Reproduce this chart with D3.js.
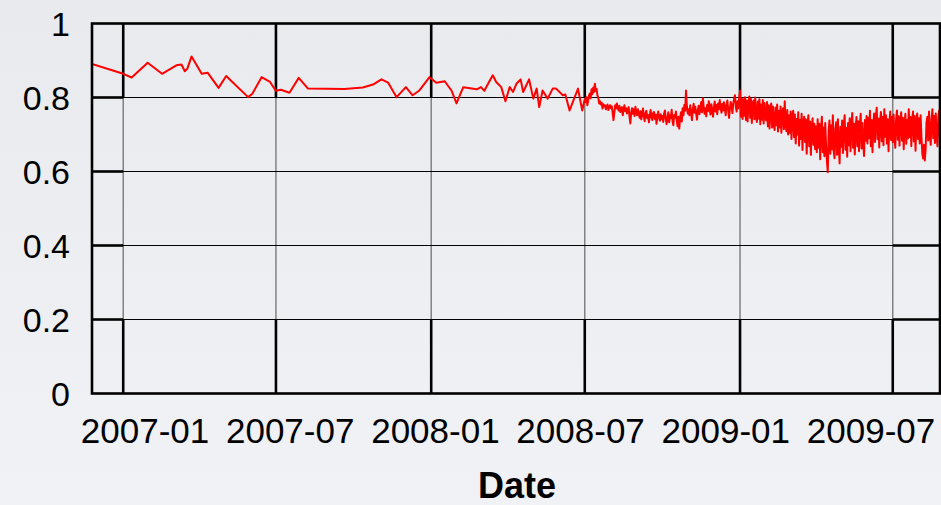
<!DOCTYPE html>
<html>
<head>
<meta charset="utf-8">
<script src="https://cdn.jsdelivr.net/npm/d3@7"></script>
<style>
  html, body { margin: 0; padding: 0; background: #eceef1; }
  svg { display: block; }
  text { font-family: "Liberation Sans", Arial, sans-serif; fill: #000; }
</style>
</head>
<body>
<svg id="chart" width="941" height="505"></svg>
<script>
// Sparse readings up to mid 2008
var sparseDates = [
    "2006-11-25", "2007-01-01", "2007-01-11", "2007-01-30", "2007-02-16", "2007-03-05", "2007-03-11",
    "2007-03-15", "2007-03-18", "2007-03-23", "2007-04-04", "2007-04-11", "2007-04-24", "2007-05-03",
    "2007-05-29", "2007-06-03", "2007-06-14", "2007-06-24", "2007-07-01", "2007-07-07", "2007-07-17",
    "2007-07-28", "2007-08-08", "2007-09-20", "2007-10-12", "2007-10-24", "2007-11-03", "2007-11-11",
    "2007-11-21", "2007-12-02", "2007-12-10", "2007-12-18", "2007-12-30", "2008-01-07", "2008-01-17",
    "2008-01-25", "2008-01-31", "2008-02-08", "2008-02-24", "2008-02-29", "2008-03-04", "2008-03-10",
    "2008-03-14", "2008-03-18", "2008-03-24", "2008-03-29", "2008-04-03", "2008-04-07", "2008-04-11",
    "2008-04-16", "2008-04-19", "2008-04-26", "2008-05-01", "2008-05-05", "2008-05-08", "2008-05-12",
    "2008-05-18", "2008-05-24", "2008-05-28", "2008-06-05", "2008-06-08", "2008-06-13", "2008-06-23",
    "2008-06-28"
];
var sparseValues = [
    0.891, 0.864, 0.854, 0.894, 0.864, 0.887, 0.889,
    0.871, 0.878, 0.911, 0.864, 0.867, 0.826, 0.858,
    0.801, 0.810, 0.855, 0.842, 0.818, 0.821, 0.813,
    0.853, 0.824, 0.823, 0.827, 0.835, 0.849, 0.840,
    0.801, 0.828, 0.806, 0.819, 0.855, 0.840, 0.844,
    0.819, 0.784, 0.828, 0.822, 0.828, 0.818, 0.844,
    0.860, 0.842, 0.828, 0.790, 0.828, 0.815, 0.837,
    0.849, 0.815, 0.849, 0.797, 0.824, 0.774, 0.819,
    0.797, 0.824, 0.824, 0.806, 0.808, 0.765, 0.824,
    0.765
];

// Daily readings from 2008-07-01
var dailyStart = "2008-07-01";
var daily2008 = [
    0.796, 0.788, 0.801, 0.779, 0.792, 0.805, 0.811, 0.798, 0.822, 0.809,
    0.827, 0.815, 0.837, 0.818, 0.823, 0.806, 0.800, 0.784, 0.790, 0.781,
    0.786, 0.770, 0.782, 0.776, 0.779, 0.768, 0.775, 0.781, 0.766, 0.774, 0.779,
    0.771, 0.776, 0.760, 0.739, 0.758, 0.779, 0.770, 0.784, 0.773, 0.765,
    0.778, 0.761, 0.769, 0.774, 0.752, 0.768, 0.779, 0.763, 0.771, 0.757,
    0.766, 0.774, 0.748, 0.730, 0.759, 0.771, 0.756, 0.768, 0.750, 0.775, 0.761,
    0.752, 0.768, 0.757, 0.745, 0.763, 0.741, 0.756, 0.770, 0.749, 0.736,
    0.758, 0.764, 0.744, 0.753, 0.733, 0.750, 0.766, 0.747, 0.739, 0.758,
    0.761, 0.742, 0.754, 0.729, 0.748, 0.762, 0.745, 0.737, 0.755, 0.741,
    0.750, 0.734, 0.757, 0.765, 0.741, 0.728, 0.746, 0.760, 0.733, 0.752,
    0.744, 0.767, 0.736, 0.725, 0.753, 0.746, 0.762, 0.739, 0.722, 0.748,
    0.716, 0.744, 0.760, 0.735, 0.771, 0.752, 0.780, 0.764, 0.819, 0.775, 0.757,
    0.768, 0.752, 0.779, 0.761, 0.739, 0.766, 0.783, 0.759, 0.775, 0.757,
    0.740, 0.766, 0.778, 0.755, 0.772, 0.788, 0.760, 0.798, 0.773, 0.756,
    0.771, 0.749, 0.780, 0.763, 0.790, 0.770, 0.754, 0.782, 0.766, 0.748,
    0.773, 0.789, 0.762, 0.780, 0.755, 0.784, 0.768, 0.793, 0.772, 0.759,
    0.783, 0.765, 0.787, 0.771, 0.752, 0.779, 0.792, 0.766, 0.745, 0.771,
    0.788, 0.776, 0.758, 0.784, 0.797, 0.806, 0.775, 0.762, 0.790, 0.771, 0.800
];
var daily2009 = [
    0.818, 0.748, 0.797, 0.742, 0.795, 0.751, 0.801, 0.739, 0.792, 0.735,
    0.786, 0.803, 0.745, 0.796, 0.731, 0.784, 0.792, 0.741, 0.800, 0.747,
    0.734, 0.789, 0.743, 0.795, 0.728, 0.781, 0.740, 0.793, 0.730, 0.785, 0.746,
    0.738, 0.788, 0.722, 0.779, 0.716, 0.770, 0.784, 0.719, 0.776, 0.728,
    0.712, 0.773, 0.725, 0.781, 0.708, 0.764, 0.719, 0.776, 0.705, 0.761,
    0.771, 0.714, 0.790, 0.726, 0.709, 0.766, 0.700, 0.752,
    0.705, 0.762, 0.688, 0.750, 0.764, 0.693, 0.754, 0.676, 0.742, 0.700,
    0.760, 0.670, 0.740, 0.688, 0.756, 0.658, 0.731, 0.748, 0.680, 0.741,
    0.648, 0.726, 0.752, 0.668, 0.735, 0.645, 0.720, 0.744, 0.672, 0.729, 0.660,
    0.722, 0.652, 0.741, 0.664, 0.729, 0.633, 0.713, 0.748, 0.652, 0.719,
    0.641, 0.731, 0.668, 0.627, 0.598, 0.710, 0.738, 0.648, 0.725, 0.660,
    0.752, 0.655, 0.636, 0.716, 0.733, 0.645, 0.741, 0.670, 0.622, 0.721,
    0.667, 0.738, 0.650, 0.726, 0.752, 0.659, 0.718, 0.640, 0.731, 0.671,
    0.744, 0.655, 0.722, 0.758, 0.664, 0.730, 0.646, 0.717, 0.747, 0.668,
    0.736, 0.655, 0.724, 0.756, 0.662, 0.731, 0.675, 0.642, 0.739, 0.683, 0.750,
    0.676, 0.745, 0.690, 0.764, 0.668, 0.739, 0.652, 0.731, 0.757, 0.680,
    0.750, 0.772, 0.687, 0.743, 0.665, 0.736, 0.761, 0.682, 0.748, 0.671,
    0.768, 0.694, 0.752, 0.676, 0.741, 0.655, 0.733, 0.762, 0.685, 0.747,
    0.679, 0.754, 0.694, 0.664, 0.742, 0.765, 0.686, 0.749, 0.670, 0.736,
    0.760, 0.683, 0.745, 0.660, 0.732, 0.756, 0.675, 0.740, 0.689, 0.768,
    0.693, 0.747, 0.668, 0.740, 0.762, 0.681, 0.750, 0.656, 0.734, 0.757, 0.688,
    0.744, 0.676, 0.752, 0.694, 0.650, 0.635, 0.672, 0.630, 0.661, 0.733,
    0.748, 0.684, 0.762, 0.700, 0.672, 0.742, 0.768, 0.690, 0.750, 0.677,
    0.757, 0.696, 0.668, 0.746, 0.765, 0.685, 0.738, 0.755
];

// Axes
var yTicks = [0, 0.2, 0.4, 0.6, 0.8, 1];
var xTicks = ["2007-01", "2007-07", "2008-01", "2008-07", "2009-01", "2009-07"];
var xTitle = "Date";
var xDomain = ["2006-11-25", "2009-08-26"];

var parseDay = d3.utcParse("%Y-%m-%d");
var parseMonth = d3.utcParse("%Y-%m");

// Build the series
var series = [];
sparseDates.forEach(function (d, i) { series.push({ date: parseDay(d), value: sparseValues[i] }); });
daily2008.concat(daily2009).forEach(function (v, i) {
    series.push({ date: d3.utcDay.offset(parseDay(dailyStart), i), value: v });
});

var svg = d3.select("#chart"),
    width = +svg.attr("width"),
    height = +svg.attr("height");

var plot = { left: 92, right: 940, top: 23.5, bottom: 393.5 };

var x = d3.scaleUtc().domain(xDomain.map(parseDay)).range([plot.left, plot.right]);
var y = d3.scaleLinear().domain([0, 1]).range([plot.bottom, plot.top]);

// Background
var defs = svg.append("defs");
var grad = defs.append("linearGradient").attr("id", "bg").attr("x1", 0).attr("y1", 0).attr("x2", 0).attr("y2", 1);
grad.append("stop").attr("offset", "0%").attr("stop-color", "#e8eaee");
grad.append("stop").attr("offset", "100%").attr("stop-color", "#f1f2f5");
svg.append("rect").attr("width", width).attr("height", height).attr("fill", "url(#bg)");

defs.append("clipPath").attr("id", "clip")
    .append("rect")
    .attr("x", plot.left).attr("y", plot.top)
    .attr("width", plot.right - plot.left).attr("height", plot.bottom - plot.top);

var inner = yTicks.filter(function (d) { return d > 0 && d < 1; });
var tickDates = xTicks.map(parseMonth);
var xFirst = x(tickDates[0]), xLast = x(tickDates[tickDates.length - 1]);
var yHigh = y(d3.max(inner)), yLow = y(d3.min(inner));

// Grid lines (thin)
var grid = svg.append("g");
grid.selectAll(".vgrid")
    .data(tickDates)
    .enter().append("line")
    .attr("class", "vgrid")
    .attr("x1", function (d) { return x(d); })
    .attr("x2", function (d) { return x(d); })
    .attr("y1", plot.top).attr("y2", plot.bottom)
    .attr("stroke", "#7a7a7a")
    .attr("stroke-width", 1.4);
grid.selectAll(".hgrid")
    .data(inner)
    .enter().append("line")
    .attr("class", "hgrid")
    .attr("x1", plot.left).attr("x2", plot.right)
    .attr("y1", function (d) { return y(d); })
    .attr("y2", function (d) { return y(d); })
    .attr("stroke", "#000")
    .attr("stroke-width", 1.2);

// Tick marks (thick, outside the outer grid lines)
var ticks = svg.append("g").attr("stroke", "#000").attr("stroke-width", 2.6);
tickDates.forEach(function (d) {
    ticks.append("line").attr("x1", x(d)).attr("x2", x(d)).attr("y1", plot.top).attr("y2", yHigh);
    ticks.append("line").attr("x1", x(d)).attr("x2", x(d)).attr("y1", yLow).attr("y2", plot.bottom);
});
inner.forEach(function (d) {
    ticks.append("line").attr("x1", plot.left).attr("x2", xFirst).attr("y1", y(d)).attr("y2", y(d));
    ticks.append("line").attr("x1", xLast).attr("x2", plot.right).attr("y1", y(d)).attr("y2", y(d));
});

// Series line
var line = d3.line()
    .x(function (d) { return x(d.date); })
    .y(function (d) { return y(d.value); });

svg.append("path")
    .datum(series)
    .attr("clip-path", "url(#clip)")
    .attr("fill", "none")
    .attr("stroke", "#ff0000")
    .attr("stroke-width", 2)
    .attr("stroke-linejoin", "round")
    .attr("d", line);

// Frame
svg.append("rect")
    .attr("x", plot.left).attr("y", plot.top)
    .attr("width", plot.right - plot.left).attr("height", plot.bottom - plot.top)
    .attr("fill", "none")
    .attr("stroke", "#000")
    .attr("stroke-width", 2.6);

// Y labels
var yAxis = svg.append("g")
    .attr("transform", "translate(" + plot.left + ",0)")
    .call(d3.axisLeft(y).tickValues(yTicks).tickSize(0).tickPadding(22).tickFormat(d3.format("~g")));
yAxis.select(".domain").remove();
yAxis.selectAll("text")
    .attr("font-family", "Liberation Sans, Arial, sans-serif")
    .attr("font-size", 34)
    .attr("dy", "0.36em");

// X labels, spread evenly under the ticks
var labelPos = d3.scaleLinear().domain([0, xTicks.length - 1]).range([145, 871]);
svg.append("g").selectAll("text")
    .data(xTicks)
    .enter().append("text")
    .attr("x", function (d, i) { return labelPos(i); })
    .attr("y", 443)
    .attr("text-anchor", "middle")
    .attr("font-size", 35)
    .text(function (d) { return d; });

svg.append("text")
    .attr("x", (plot.left + plot.right) / 2 + 1)
    .attr("y", 498)
    .attr("text-anchor", "middle")
    .attr("font-size", 36)
    .attr("font-weight", "bold")
    .text(xTitle);
</script>
</body>
</html>
